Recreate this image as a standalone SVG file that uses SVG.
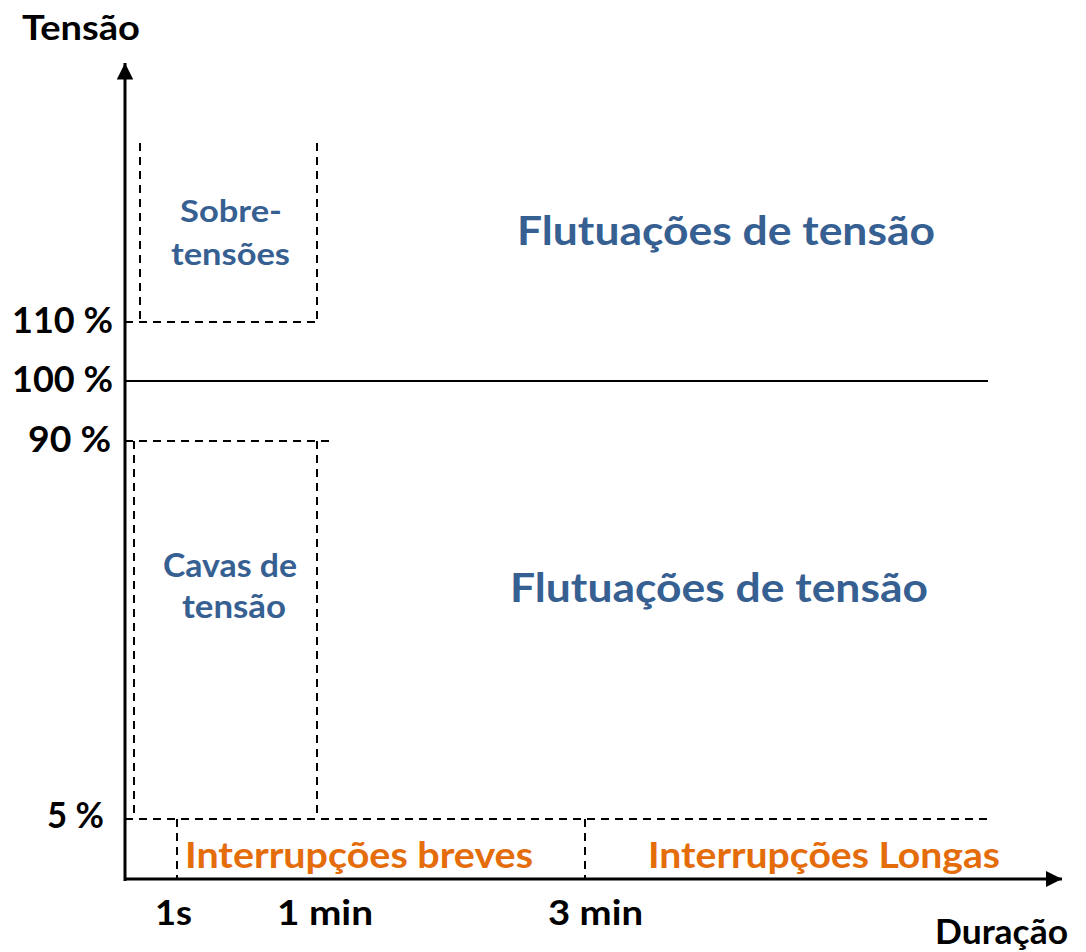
<svg xmlns="http://www.w3.org/2000/svg" width="1086" height="952" viewBox="0 0 1086 952">
<style>
text{font-family:Lato,"Liberation Sans",sans-serif;font-weight:bold}
.lbl{fill:#000}
.blue{fill:#376092}
.orange{fill:#E46C0A}
.dash{stroke:#000;stroke-width:2;stroke-dasharray:8 6;fill:none}
.axis{stroke:#000;stroke-width:3;fill:none}
</style>
<defs>
<marker id="arr" viewBox="0 0 10 10" refX="10" refY="5" markerWidth="5.5" markerHeight="5.5" markerUnits="strokeWidth" orient="auto">
<path d="M0,0 L10,5 L0,10 Z" fill="#000"/>
</marker>
</defs>
<rect width="1086" height="952" fill="#fff"/>
<g id="connectors">
<line class="axis" x1="125" y1="881" x2="125" y2="63" marker-end="url(#arr)"/>
<line class="axis" x1="124" y1="879" x2="1062" y2="879" marker-end="url(#arr)"/>
<line x1="125" y1="381" x2="988" y2="381" stroke="#000" stroke-width="2"/>
</g>
<g id="sobretensoes">
<path class="dash" d="M140,143 V322 M125,322 H317 M317,143 V322"/>
<text class="blue" x="180" y="222" font-size="31" textLength="102" lengthAdjust="spacingAndGlyphs">Sobre-</text>
<text class="blue" x="171" y="265" font-size="31" textLength="119" lengthAdjust="spacingAndGlyphs">tensões</text>
</g>
<g id="cavas">
<path class="dash" d="M125,441 H330 M134,441 V818 M317,441 V818"/>
<text class="blue" x="163" y="577" font-size="32" textLength="134" lengthAdjust="spacingAndGlyphs">Cavas de</text>
<text class="blue" x="182" y="618" font-size="32" textLength="104" lengthAdjust="spacingAndGlyphs">tensão</text>
</g>
<g id="flutuacoes-top">
<text class="blue" x="517" y="245" font-size="41" textLength="418" lengthAdjust="spacingAndGlyphs">Flutuações de tensão</text>
</g>
<g id="flutuacoes-bottom">
<text class="blue" x="510" y="602" font-size="41" textLength="418" lengthAdjust="spacingAndGlyphs">Flutuações de tensão</text>
</g>
<g id="interrupcoes">
<path class="dash" d="M125,819 H988 M177,819 V880 M585,819 V880"/>
<text class="orange" x="185" y="868" font-size="36" textLength="348" lengthAdjust="spacingAndGlyphs">Interrupções breves</text>
<text class="orange" x="648" y="868" font-size="36" textLength="352" lengthAdjust="spacingAndGlyphs">Interrupções Longas</text>
</g>
<g id="labels">
<text class="lbl" x="22" y="40" font-size="35" textLength="118" lengthAdjust="spacingAndGlyphs">Tensão</text>
<text class="lbl" x="12" y="333" font-size="36" textLength="101" lengthAdjust="spacingAndGlyphs">110 %</text>
<text class="lbl" x="12" y="392" font-size="36" textLength="101" lengthAdjust="spacingAndGlyphs">100 %</text>
<text class="lbl" x="28" y="452" font-size="36" textLength="83" lengthAdjust="spacingAndGlyphs">90 %</text>
<text class="lbl" x="47" y="828" font-size="36" textLength="57" lengthAdjust="spacingAndGlyphs">5 %</text>
<text class="lbl" x="155" y="925" font-size="35" textLength="37" lengthAdjust="spacingAndGlyphs">1s</text>
<text class="lbl" x="277" y="925" font-size="35" textLength="96" lengthAdjust="spacingAndGlyphs">1 min</text>
<text class="lbl" x="548" y="925" font-size="35" textLength="95" lengthAdjust="spacingAndGlyphs">3 min</text>
<text class="lbl" x="935" y="944" font-size="35" textLength="133" lengthAdjust="spacingAndGlyphs">Duração</text>
</g>
</svg>
